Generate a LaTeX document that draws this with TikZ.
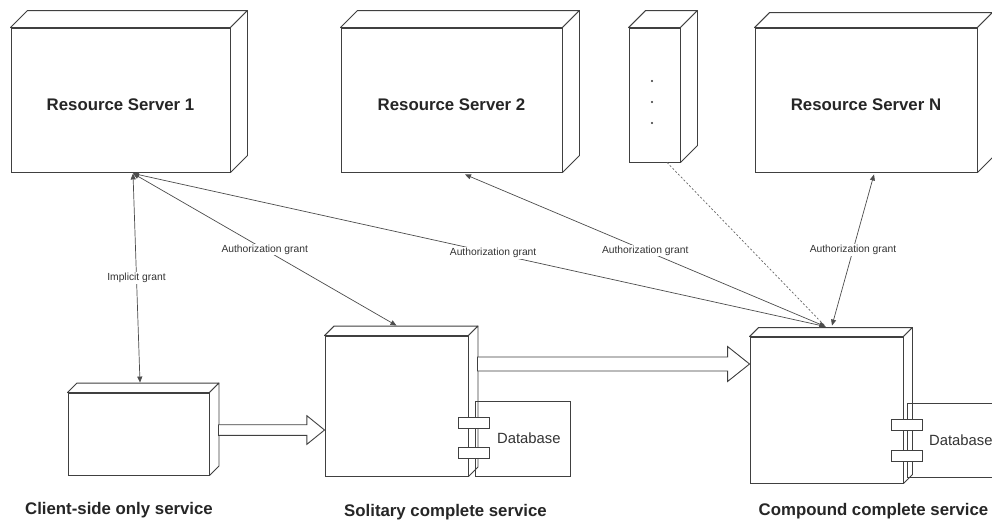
\documentclass[tikz,border=0pt]{standalone}
\usepackage{fontspec}
\setmainfont{Liberation Sans}
\usetikzlibrary{calc,arrows.meta}

\tikzset{
  x=1pt, y=-1pt,
  boxline/.style={draw=black!75, line width=0.9pt},
  face/.style={boxline, rectangle, inner sep=0pt, fill=white},
  title/.style={font=\fontsize{16.8}{20}\selectfont\bfseries, text=black!85, inner sep=0pt},
  dbtext/.style={font=\fontsize{14.8}{17}\selectfont, text=black!80, inner sep=0pt, anchor=west},
  grant/.style={draw=black!70, line width=0.7pt,
    {Triangle[length=6pt,width=5pt]}-{Triangle[length=6pt,width=5pt]}},
  hint/.style={draw=black!60, line width=0.7pt, dash pattern=on 2pt off 2pt},
  glabel/.style={font=\fontsize{10.3}{12}\selectfont, text=black!80, fill=white, inner sep=1pt, pos=0.5},
  tabbox/.style={boxline, fill=white, rectangle, minimum width=31pt, minimum height=11pt, inner sep=0pt},
  dbbox/.style={boxline, rectangle, inner sep=0pt},
  block/.style={boxline, fill=white, line join=miter},
}

% top and right faces of a 3D node box, given the front face node and the depth
\newcommand\boxdepth[2]{%
  \draw[boxline, fill=white, line join=round] (#1.north west) -- ++(#2,-#2)
    -- ([shift={(#2,-#2)}]#1.north east) -- (#1.north east) -- cycle;
  \draw[boxline, fill=white, line join=round] (#1.north east)
    -- ([shift={(#2,-#2)}]#1.north east) -- ([shift={(#2,-#2)}]#1.south east)
    -- (#1.south east) -- cycle;
}

% hollow horizontal block arrow: start, end, shaft half height, head half height, head length
\newcommand\blockarrow[5]{%
  \draw[block] let \p1=(#1), \p2=(#2) in
    (\x1,{\y1+#3pt}) -- ({\x2-#5pt},{\y1+#3pt}) -- ({\x2-#5pt},{\y1+#4pt})
    -- (\x2,\y1) -- ({\x2-#5pt},{\y1-#4pt}) -- ({\x2-#5pt},{\y1-#3pt})
    -- (\x1,{\y1-#3pt}) -- cycle;
}

\begin{document}
\begin{tikzpicture}
\clip (0,0) rectangle (992,523);
\fill[white] (0,0) rectangle (992,523);

% resource servers
\node[face, minimum width=219pt, minimum height=144pt] (rs1) at (120.5,100) {};
\boxdepth{rs1}{17}
\node[title] (rs1t) at (120.5,105) {Resource Server 1};

\node[face, minimum width=221pt, minimum height=144pt] (rs2) at (451.5,100) {};
\boxdepth{rs2}{17}
\node[title] (rs2t) at (451.5,105) {Resource Server 2};

\node[face, minimum width=51pt, minimum height=134pt] (dots) at (654.5,95) {};
\boxdepth{dots}{17}
\fill[black!80] (652,81) circle (1.2pt) (652,102) circle (1.2pt) (652,123) circle (1.2pt);

\node[face, minimum width=222pt, minimum height=144pt] (rsN) at (866,100) {};
\boxdepth{rsN}{15}
\node[title] (rsNt) at (866,105) {Resource Server N};

% services
\node[face, minimum width=141pt, minimum height=82pt] (cs) at (138.5,434) {};
\boxdepth{cs}{9.5}
\node[title] (cst) at (119,510) {Client-side only service};

\node[face, minimum width=143pt, minimum height=140pt] (sol) at (396.5,406) {};
\boxdepth{sol}{9.5}
\node[title] (solt) at (445.5,512) {Solitary complete service};

\node[face, minimum width=153pt, minimum height=146pt] (cps) at (826.5,410) {};
\boxdepth{cps}{9}
\node[title] (cpst) at (873.5,511) {Compound complete service};

% databases
\node[dbbox, minimum width=95pt, minimum height=75pt] (db1) at (522.5,438.5) {};
\node[tabbox] (db1a) at ($(db1.west)+(-1,-16)$) {};
\node[tabbox] (db1b) at ($(db1.west)+(-1,14)$) {};
\node[dbtext] (db1t) at (497,438) {Database};

\node[dbbox, minimum width=95pt, minimum height=74pt] (db2) at (954.5,440) {};
\node[tabbox] (db2a) at ($(db2.west)+(0.5,-15)$) {};
\node[tabbox] (db2b) at ($(db2.west)+(0.5,16)$) {};
\node[dbtext] (db2t) at (929,440.5) {Database};

% block arrows between services
\blockarrow{$(cs.east)+(9,-4)$}{sol.west}{5.3}{14.3}{17.7}
\blockarrow{$(sol.east)+(9,-42)$}{cps.west}{7}{17.5}{22}

% connector end points
\coordinate (rs1p) at ($(rs1.south)+(12.5,1)$);
\coordinate (rs2p) at ($(rs2.south)+(13.5,2)$);
\coordinate (rsNp) at ($(rsN.south)+(8,2)$);
\coordinate (dotsp) at ($(dots.south)+(12.5,0)$);
\coordinate (csp) at ($(cs.north)+(1.5,-10)$);
\coordinate (solp) at ($(sol.north)+(0,-10)$);
\coordinate (cpsp) at ($(cps.north)+(-1,-10)$);
\coordinate (cpsq) at ($(cps.north)+(5.5,-11)$);

% grants
\draw[hint] (dotsp) -- (cpsp);
\draw[grant] (rs1p) -- node[glabel] {Implicit grant} (csp);
\draw[grant] (rs1p) -- node[glabel] {Authorization grant} (solp);
\draw[grant] (rs1p) -- node[glabel, pos=0.52] {Authorization grant} (cpsp);
\draw[grant] (rs2p) -- node[glabel] {Authorization grant} (cpsp);
\draw[grant] (rsNp) -- node[glabel] {Authorization grant} (cpsq);
\end{tikzpicture}
\end{document}
